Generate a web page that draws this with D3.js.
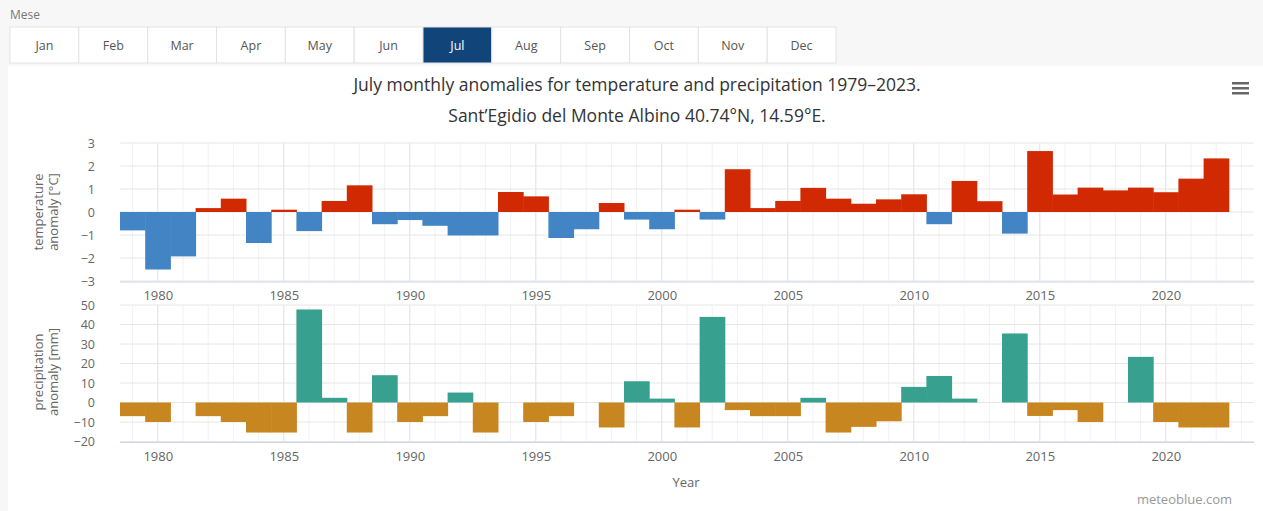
<!DOCTYPE html>
<html>
<head>
<meta charset="utf-8">
<script src="https://cdn.jsdelivr.net/npm/d3@7"></script>
<style>
  body { margin: 0; background: #f7f7f7; font-family: "Open Sans", sans-serif; }
  svg { display: block; }
</style>
</head>
<body>
<svg id="chart" width="1263" height="511"></svg>
<script>
// data
var months = ["Jan", "Feb", "Mar", "Apr", "May", "Jun", "Jul", "Aug", "Sep", "Oct", "Nov", "Dec"];
var activeMonth = "Jul";
var years = d3.range(1979, 2023);
var tempAnomaly = [
	-0.8, -2.5, -1.93, 0.17, 0.58, -1.35, 0.1, -0.83, 0.48, 1.16,
	-0.53, -0.35, -0.6, -1.02, -1.02, 0.87, 0.68, -1.13, -0.75, 0.39,
	-0.33, -0.75, 0.1, -0.33, 1.86, 0.17, 0.48, 1.05, 0.58, 0.36,
	0.55, 0.77, -0.53, 1.35, 0.47, -0.94, 2.65, 0.76, 1.06, 0.94,
	1.06, 0.86, 1.45, 2.33
];
var precAnomaly = [
	-7, -10, 0, -7, -10, -15.4, -15.4, 47.7, 2.4, -15.4,
	14, -10, -7, 5.1, -15.4, 0, -10, -7, 0, -12.8,
	10.9, 2, -12.8, 43.9, -3.9, -7, -7, 2.4, -15.4, -12.5,
	-9.6, 8, 13.6, 2, 0, 35.4, -6.9, -3.9, -10, 0,
	23.4, -10, -12.8, -12.8
];
var tempTicks = [-3, -2, -1, 0, 1, 2, 3];
var precTicks = [-20, -10, 0, 10, 20, 30, 40, 50];
var yearTicks = [1980, 1985, 1990, 1995, 2000, 2005, 2010, 2015, 2020];

var svg = d3.select("#chart");

// page background panels
svg.append("rect").attr("x", 0).attr("y", 0).attr("width", 1263).attr("height", 511).attr("fill", "#f7f7f7");
svg.append("rect").attr("x", 8).attr("y", 66).attr("width", 1255).attr("height", 445).attr("fill", "#fff");

// month tabs
svg.append("text").attr("x", 10).attr("y", 19).attr("fill", "#777")
	.style("font-size", "12px").text("Mese");

var tab = d3.scaleBand().domain(months).range([10, 836]);
var tabs = svg.selectAll(".tab").data(months).enter().append("g").attr("class", "tab");
tabs.append("rect")
	.attr("x", function(d) { return tab(d); })
	.attr("y", 27)
	.attr("width", tab.bandwidth())
	.attr("height", 36)
	.attr("fill", function(d) { return d === activeMonth ? "#11457a" : "#fff"; })
	.attr("stroke", "#e3e3e3");
tabs.append("text")
	.attr("x", function(d) { return tab(d) + tab.bandwidth() / 2; })
	.attr("y", 50)
	.attr("text-anchor", "middle")
	.attr("fill", function(d) { return d === activeMonth ? "#fff" : "#555"; })
	.style("font-size", "12.5px")
	.text(function(d) { return d; });

// titles
svg.append("text").attr("x", 637).attr("y", 91).attr("text-anchor", "middle")
	.attr("fill", "#333").style("font-size", "17.5px")
	.text("July monthly anomalies for temperature and precipitation 1979\u20132023.");
svg.append("text").attr("x", 637).attr("y", 122).attr("text-anchor", "middle")
	.attr("fill", "#333").style("font-size", "17.5px")
	.text("Sant\u2019Egidio del Monte Albino 40.74\u00b0N, 14.59\u00b0E.");

// menu icon
[82, 87, 92].forEach(function(yy) {
	svg.append("rect").attr("x", 1232).attr("y", yy).attr("width", 17).attr("height", 2.5).attr("fill", "#666");
});

var x = d3.scaleLinear().domain([1978.5, 2023.5]).range([120, 1254]);

function drawPanel(values, ticks, yRange, posColor, negColor, labelLines, labelY) {
	var y = d3.scaleLinear().domain([ticks[0], ticks[ticks.length - 1]]).range(yRange);
	var g = svg.append("g");

	// minor vertical grid every year
	g.selectAll(".minor").data(d3.range(1979, 2024)).enter().append("line")
		.attr("x1", function(d) { return x(d); }).attr("x2", function(d) { return x(d); })
		.attr("y1", yRange[1]).attr("y2", yRange[0])
		.attr("stroke", "#f2f2f2");

	// horizontal grid
	g.selectAll(".hgrid").data(ticks).enter().append("line")
		.attr("x1", x.range()[0]).attr("x2", x.range()[1])
		.attr("y1", function(d) { return y(d); }).attr("y2", function(d) { return y(d); })
		.attr("stroke", "#e6e6e6");

	// major vertical grid
	g.selectAll(".vgrid").data(yearTicks).enter().append("line")
		.attr("x1", function(d) { return x(d); }).attr("x2", function(d) { return x(d); })
		.attr("y1", yRange[1]).attr("y2", yRange[0])
		.attr("stroke", "#e2e6ee");

	// bars
	var w = x(1) - x(0);
	g.selectAll(".bar").data(values).enter().append("rect")
		.attr("x", function(d, i) { return x(years[i]) - w / 2; })
		.attr("width", w + 0.5)
		.attr("y", function(d) { return y(Math.max(0, d)); })
		.attr("height", function(d) { return Math.abs(y(d) - y(0)); })
		.attr("fill", function(d) { return d >= 0 ? posColor : negColor; });

	// x axis line + labels
	g.append("line").attr("x1", x.range()[0]).attr("x2", x.range()[1])
		.attr("y1", yRange[0] + 1).attr("y2", yRange[0] + 1).attr("stroke", "#ccd6eb");
	var xa = g.append("g").attr("transform", "translate(0," + (yRange[0] + 1) + ")")
		.call(d3.axisBottom(x).tickValues(yearTicks).tickFormat(d3.format("d")).tickSize(0).tickPadding(9));
	xa.select(".domain").remove();
	xa.selectAll("text").attr("fill", "#666").style("font-size", "13px").style("font-family", "Open Sans, sans-serif");

	// y axis labels
	var ya = g.append("g").attr("transform", "translate(95,0)")
		.call(d3.axisLeft(y).tickValues(ticks).tickSize(0).tickPadding(0).tickFormat(function(d) { return d < 0 ? "\u2212" + Math.abs(d) : d; }));
	ya.select(".domain").remove();
	ya.selectAll("text").attr("fill", "#666").style("font-size", "12.5px").style("font-family", "Open Sans, sans-serif");

	// y axis title
	var t = g.append("text").attr("transform", "translate(46," + labelY + ") rotate(-90)")
		.attr("text-anchor", "middle").attr("fill", "#666").style("font-size", "13px");
	labelLines.forEach(function(l, i) {
		t.append("tspan").attr("x", 0).attr("dy", i === 0 ? "-0.25em" : "1.2em").text(l);
	});
}

drawPanel(tempAnomaly, tempTicks, [281, 143], "#d12a02", "#4384c4", ["temperature", "anomaly [\u00b0C]"], 212);
drawPanel(precAnomaly, precTicks, [441.5, 305], "#37a08e", "#c7861f", ["precipitation", "anomaly [mm]"], 372);

svg.append("text").attr("x", 686).attr("y", 487).attr("text-anchor", "middle")
	.attr("fill", "#666").style("font-size", "13px").text("Year");

svg.append("text").attr("x", 1232).attr("y", 504).attr("text-anchor", "end")
	.attr("fill", "#999").style("font-size", "13px").text("meteoblue.com");
</script>
</body>
</html>
